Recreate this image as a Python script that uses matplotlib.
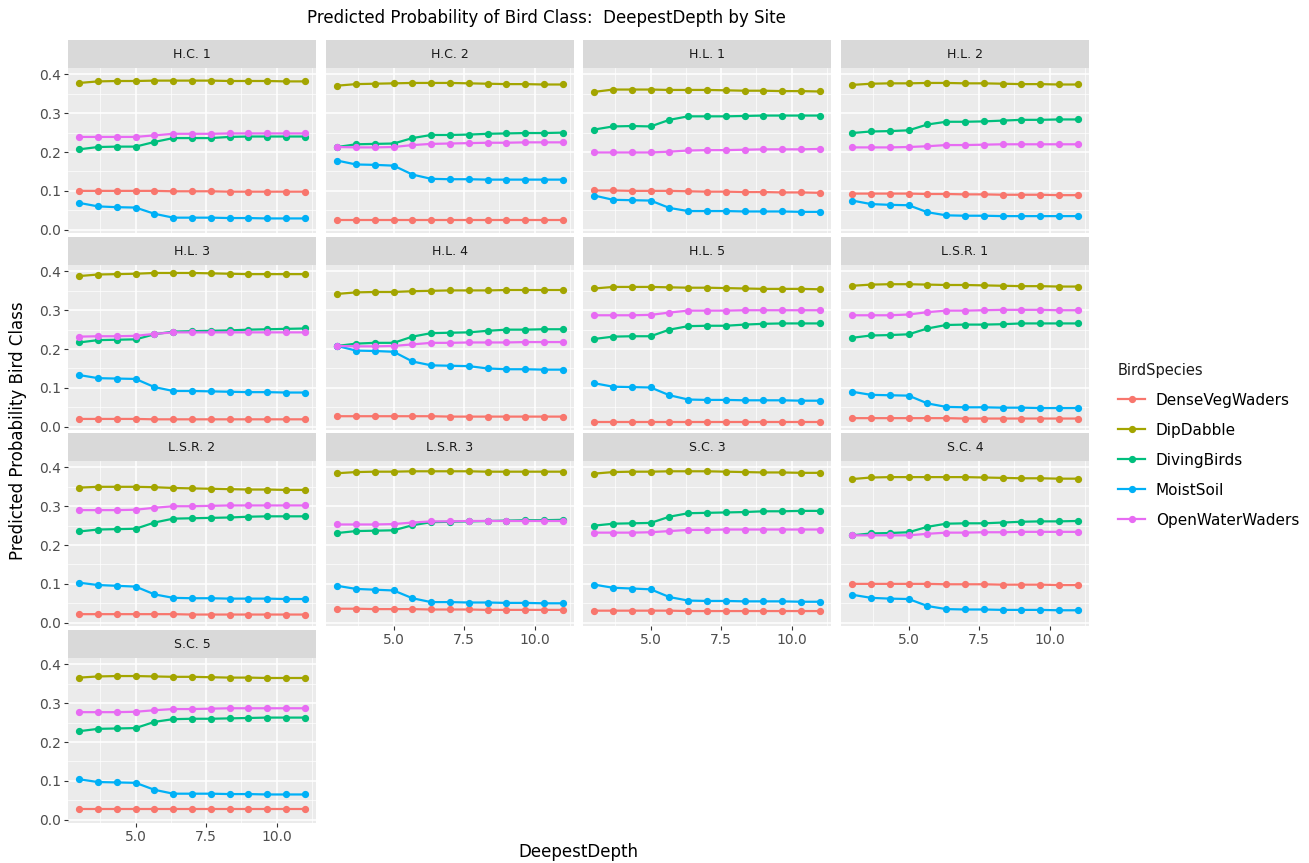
import matplotlib
matplotlib.use("Agg")
import matplotlib.pyplot as plt
from matplotlib.lines import Line2D

plt.rcParams['font.family'] = ['DejaVu Sans']

# depth values (13 points, 3 to 11)
depth = [3.0, 3.667, 4.333, 5.0, 5.667, 6.333, 7.0, 7.667, 8.333, 9.0, 9.667, 10.333, 11.0]

species = ["DenseVegWaders", "DipDabble", "DivingBirds", "MoistSoil", "OpenWaterWaders"]
colors = ["#F8766D", "#A3A500", "#00BF7D", "#00B0F6", "#E76BF3"]

sites = ["H.C. 1", "H.C. 2", "H.L. 1", "H.L. 2", "H.L. 3", "H.L. 4", "H.L. 5",
         "L.S.R. 1", "L.S.R. 2", "L.S.R. 3", "S.C. 3", "S.C. 4", "S.C. 5"]

# per site, per species: DenseVeg, DipDabble, Diving, MoistSoil, OpenWater
hc1_dense = [0.100, 0.100, 0.100, 0.100, 0.100, 0.099, 0.099, 0.099, 0.098, 0.098, 0.098, 0.098, 0.098]
hc1_dip = [0.378, 0.382, 0.383, 0.383, 0.384, 0.384, 0.384, 0.384, 0.383, 0.383, 0.383, 0.382, 0.382]
hc1_div = [0.207, 0.213, 0.214, 0.214, 0.226, 0.236, 0.236, 0.236, 0.239, 0.240, 0.240, 0.240, 0.240]
hc1_moist = [0.069, 0.060, 0.058, 0.057, 0.041, 0.031, 0.031, 0.031, 0.030, 0.030, 0.029, 0.029, 0.029]
hc1_open = [0.239, 0.239, 0.239, 0.239, 0.243, 0.247, 0.247, 0.247, 0.248, 0.248, 0.248, 0.248, 0.248]

hc2_dense = [0.025, 0.025, 0.025, 0.025, 0.025, 0.025, 0.025, 0.025, 0.025, 0.025, 0.025, 0.025, 0.025]
hc2_dip = [0.371, 0.375, 0.376, 0.377, 0.378, 0.378, 0.378, 0.377, 0.376, 0.375, 0.375, 0.374, 0.374]
hc2_div = [0.213, 0.220, 0.221, 0.222, 0.236, 0.244, 0.244, 0.245, 0.247, 0.248, 0.249, 0.249, 0.250]
hc2_moist = [0.178, 0.168, 0.167, 0.165, 0.142, 0.131, 0.130, 0.130, 0.129, 0.129, 0.129, 0.129, 0.129]
hc2_open = [0.213, 0.212, 0.212, 0.213, 0.218, 0.221, 0.222, 0.223, 0.224, 0.224, 0.225, 0.225, 0.225]

hl1_dense = [0.101, 0.101, 0.100, 0.100, 0.100, 0.099, 0.098, 0.098, 0.097, 0.097, 0.096, 0.096, 0.095]
hl1_dip = [0.355, 0.361, 0.361, 0.361, 0.360, 0.360, 0.360, 0.359, 0.358, 0.358, 0.357, 0.357, 0.356]
hl1_div = [0.258, 0.266, 0.267, 0.266, 0.283, 0.292, 0.292, 0.292, 0.293, 0.294, 0.294, 0.294, 0.294]
hl1_moist = [0.088, 0.077, 0.076, 0.075, 0.056, 0.048, 0.048, 0.048, 0.047, 0.047, 0.047, 0.046, 0.046]
hl1_open = [0.199, 0.199, 0.199, 0.199, 0.201, 0.204, 0.205, 0.205, 0.206, 0.207, 0.207, 0.207, 0.208]

hl2_dense = [0.093, 0.093, 0.093, 0.093, 0.092, 0.092, 0.091, 0.091, 0.090, 0.090, 0.090, 0.089, 0.089]
hl2_dip = [0.373, 0.376, 0.377, 0.377, 0.378, 0.378, 0.377, 0.377, 0.376, 0.375, 0.375, 0.374, 0.374]
hl2_div = [0.249, 0.253, 0.254, 0.256, 0.271, 0.278, 0.278, 0.279, 0.281, 0.283, 0.283, 0.284, 0.284]
hl2_moist = [0.075, 0.066, 0.064, 0.063, 0.045, 0.037, 0.036, 0.036, 0.035, 0.035, 0.035, 0.035, 0.035]
hl2_open = [0.212, 0.212, 0.212, 0.213, 0.215, 0.218, 0.218, 0.219, 0.220, 0.220, 0.220, 0.220, 0.220]

hl3_dense = [0.020, 0.020, 0.020, 0.020, 0.019, 0.019, 0.019, 0.019, 0.019, 0.019, 0.019, 0.019, 0.019]
hl3_dip = [0.388, 0.392, 0.393, 0.394, 0.396, 0.396, 0.396, 0.395, 0.394, 0.393, 0.393, 0.393, 0.393]
hl3_div = [0.217, 0.223, 0.224, 0.225, 0.238, 0.245, 0.246, 0.247, 0.248, 0.250, 0.251, 0.252, 0.253]
hl3_moist = [0.133, 0.125, 0.124, 0.123, 0.102, 0.092, 0.092, 0.091, 0.090, 0.089, 0.089, 0.088, 0.088]
hl3_open = [0.232, 0.233, 0.233, 0.234, 0.239, 0.243, 0.243, 0.243, 0.243, 0.243, 0.243, 0.243, 0.243]

hl4_dense = [0.027, 0.027, 0.027, 0.027, 0.027, 0.027, 0.026, 0.026, 0.026, 0.026, 0.026, 0.026, 0.026]
hl4_dip = [0.342, 0.346, 0.347, 0.347, 0.349, 0.350, 0.351, 0.351, 0.351, 0.352, 0.352, 0.352, 0.352]
hl4_div = [0.208, 0.214, 0.216, 0.216, 0.232, 0.241, 0.242, 0.243, 0.247, 0.250, 0.250, 0.251, 0.251]
hl4_moist = [0.208, 0.196, 0.195, 0.193, 0.168, 0.158, 0.157, 0.156, 0.150, 0.148, 0.148, 0.147, 0.147]
hl4_open = [0.208, 0.207, 0.207, 0.208, 0.212, 0.216, 0.216, 0.217, 0.217, 0.217, 0.218, 0.218, 0.218]

hl5_dense = [0.011, 0.011, 0.011, 0.011, 0.011, 0.011, 0.011, 0.011, 0.011, 0.011, 0.011, 0.011, 0.011]
hl5_dip = [0.356, 0.360, 0.360, 0.360, 0.359, 0.358, 0.358, 0.357, 0.356, 0.355, 0.355, 0.355, 0.354]
hl5_div = [0.226, 0.232, 0.233, 0.233, 0.250, 0.259, 0.260, 0.260, 0.263, 0.265, 0.266, 0.266, 0.266]
hl5_moist = [0.112, 0.103, 0.102, 0.101, 0.081, 0.070, 0.069, 0.069, 0.068, 0.068, 0.068, 0.067, 0.067]
hl5_open = [0.287, 0.287, 0.287, 0.288, 0.294, 0.299, 0.299, 0.299, 0.300, 0.300, 0.300, 0.300, 0.300]

lsr1_dense = [0.022, 0.022, 0.022, 0.022, 0.022, 0.022, 0.021, 0.021, 0.021, 0.021, 0.021, 0.021, 0.021]
lsr1_dip = [0.363, 0.366, 0.367, 0.367, 0.366, 0.365, 0.365, 0.364, 0.363, 0.362, 0.362, 0.361, 0.361]
lsr1_div = [0.229, 0.235, 0.236, 0.238, 0.253, 0.262, 0.263, 0.263, 0.264, 0.266, 0.266, 0.266, 0.266]
lsr1_moist = [0.090, 0.082, 0.081, 0.080, 0.060, 0.051, 0.050, 0.050, 0.049, 0.049, 0.048, 0.048, 0.048]
lsr1_open = [0.287, 0.287, 0.287, 0.289, 0.295, 0.299, 0.299, 0.300, 0.301, 0.301, 0.301, 0.300, 0.300]

lsr2_dense = [0.022, 0.022, 0.022, 0.022, 0.022, 0.022, 0.021, 0.021, 0.021, 0.021, 0.021, 0.021, 0.021]
lsr2_dip = [0.348, 0.350, 0.350, 0.350, 0.349, 0.347, 0.346, 0.345, 0.344, 0.343, 0.343, 0.342, 0.342]
lsr2_div = [0.235, 0.240, 0.241, 0.242, 0.258, 0.268, 0.269, 0.270, 0.271, 0.273, 0.274, 0.274, 0.274]
lsr2_moist = [0.103, 0.097, 0.095, 0.093, 0.073, 0.064, 0.063, 0.063, 0.062, 0.062, 0.062, 0.061, 0.061]
lsr2_open = [0.290, 0.290, 0.290, 0.291, 0.296, 0.300, 0.300, 0.301, 0.302, 0.302, 0.302, 0.302, 0.302]

lsr3_dense = [0.036, 0.036, 0.035, 0.035, 0.035, 0.034, 0.034, 0.034, 0.033, 0.033, 0.033, 0.033, 0.033]
lsr3_dip = [0.385, 0.388, 0.389, 0.389, 0.390, 0.390, 0.390, 0.390, 0.389, 0.389, 0.389, 0.389, 0.389]
lsr3_div = [0.231, 0.236, 0.237, 0.238, 0.251, 0.259, 0.260, 0.261, 0.262, 0.263, 0.264, 0.264, 0.265]
lsr3_moist = [0.095, 0.087, 0.085, 0.083, 0.063, 0.053, 0.053, 0.052, 0.052, 0.051, 0.051, 0.050, 0.050]
lsr3_open = [0.253, 0.253, 0.253, 0.254, 0.258, 0.261, 0.261, 0.262, 0.262, 0.262, 0.262, 0.262, 0.262]

sc3_dense = [0.031, 0.031, 0.031, 0.031, 0.031, 0.030, 0.030, 0.030, 0.030, 0.030, 0.030, 0.030, 0.030]
sc3_dip = [0.384, 0.388, 0.389, 0.389, 0.390, 0.390, 0.390, 0.389, 0.388, 0.387, 0.387, 0.386, 0.386]
sc3_div = [0.250, 0.255, 0.256, 0.257, 0.273, 0.282, 0.283, 0.284, 0.285, 0.287, 0.287, 0.288, 0.288]
sc3_moist = [0.098, 0.090, 0.088, 0.086, 0.066, 0.057, 0.056, 0.056, 0.055, 0.055, 0.055, 0.054, 0.054]
sc3_open = [0.232, 0.232, 0.232, 0.233, 0.236, 0.239, 0.239, 0.240, 0.240, 0.240, 0.240, 0.240, 0.240]

sc4_dense = [0.100, 0.100, 0.100, 0.100, 0.100, 0.099, 0.099, 0.099, 0.098, 0.098, 0.098, 0.097, 0.097]
sc4_dip = [0.370, 0.374, 0.375, 0.375, 0.375, 0.375, 0.375, 0.374, 0.373, 0.372, 0.372, 0.371, 0.371]
sc4_div = [0.225, 0.230, 0.231, 0.233, 0.247, 0.255, 0.256, 0.256, 0.258, 0.260, 0.261, 0.261, 0.262]
sc4_moist = [0.072, 0.064, 0.062, 0.061, 0.043, 0.035, 0.034, 0.034, 0.033, 0.033, 0.033, 0.032, 0.032]
sc4_open = [0.225, 0.225, 0.225, 0.225, 0.229, 0.232, 0.232, 0.233, 0.233, 0.234, 0.234, 0.234, 0.234]

sc5_dense = [0.028, 0.028, 0.028, 0.028, 0.028, 0.028, 0.028, 0.028, 0.028, 0.028, 0.028, 0.028, 0.028]
sc5_dip = [0.366, 0.369, 0.370, 0.370, 0.369, 0.368, 0.368, 0.367, 0.366, 0.366, 0.365, 0.365, 0.365]
sc5_div = [0.228, 0.234, 0.235, 0.236, 0.252, 0.259, 0.260, 0.260, 0.261, 0.262, 0.263, 0.263, 0.263]
sc5_moist = [0.104, 0.097, 0.096, 0.095, 0.077, 0.067, 0.067, 0.067, 0.066, 0.066, 0.065, 0.065, 0.065]
sc5_open = [0.277, 0.277, 0.277, 0.278, 0.282, 0.285, 0.285, 0.286, 0.287, 0.287, 0.287, 0.287, 0.287]

site_data = {
    "H.C. 1": [hc1_dense, hc1_dip, hc1_div, hc1_moist, hc1_open],
    "H.C. 2": [hc2_dense, hc2_dip, hc2_div, hc2_moist, hc2_open],
    "H.L. 1": [hl1_dense, hl1_dip, hl1_div, hl1_moist, hl1_open],
    "H.L. 2": [hl2_dense, hl2_dip, hl2_div, hl2_moist, hl2_open],
    "H.L. 3": [hl3_dense, hl3_dip, hl3_div, hl3_moist, hl3_open],
    "H.L. 4": [hl4_dense, hl4_dip, hl4_div, hl4_moist, hl4_open],
    "H.L. 5": [hl5_dense, hl5_dip, hl5_div, hl5_moist, hl5_open],
    "L.S.R. 1": [lsr1_dense, lsr1_dip, lsr1_div, lsr1_moist, lsr1_open],
    "L.S.R. 2": [lsr2_dense, lsr2_dip, lsr2_div, lsr2_moist, lsr2_open],
    "L.S.R. 3": [lsr3_dense, lsr3_dip, lsr3_div, lsr3_moist, lsr3_open],
    "S.C. 3": [sc3_dense, sc3_dip, sc3_div, sc3_moist, sc3_open],
    "S.C. 4": [sc4_dense, sc4_dip, sc4_div, sc4_moist, sc4_open],
    "S.C. 5": [sc5_dense, sc5_dip, sc5_div, sc5_moist, sc5_open],
}

W, H = 1309, 863
fig = plt.figure(figsize=(W / 100, H / 100), dpi=100)
fig.patch.set_facecolor("white")

col_left = [68, 326, 583, 841]
panel_w = 248
strip_top = [40, 237, 433, 630]
strip_h = 28
panel_h = 165


def fx(px):
    return px / W


def fy(py):
    return 1 - py / H


ncols = 4
nsites = len(sites)
for i, site in enumerate(sites):
    r, c = divmod(i, ncols)
    x0 = col_left[c]
    top = strip_top[r]
    # strip
    sax = fig.add_axes([fx(x0), fy(top + strip_h), fx(panel_w), strip_h / H])
    sax.set_facecolor("#D9D9D9")
    sax.set_xticks([])
    sax.set_yticks([])
    for sp in sax.spines.values():
        sp.set_visible(False)
    sax.text(0.5, 0.5, site, ha="center", va="center", fontsize=9, color="#1A1A1A",
             transform=sax.transAxes)

    ax = fig.add_axes([fx(x0), fy(top + strip_h + panel_h), fx(panel_w), panel_h / H])
    ax.set_facecolor("#EBEBEB")
    for sp in ax.spines.values():
        sp.set_visible(False)
    ax.set_xlim(2.6, 11.4)
    ax.set_ylim(-0.0085, 0.4165)
    ax.set_xticks([5.0, 7.5, 10.0])
    ax.set_xticks([3.75, 6.25, 8.75, 11.25], minor=True)
    ax.set_yticks([0.0, 0.1, 0.2, 0.3, 0.4])
    ax.set_yticks([0.05, 0.15, 0.25, 0.35], minor=True)
    ax.grid(which="major", color="white", linewidth=1.1)
    ax.grid(which="minor", color="white", linewidth=0.5)
    ax.set_axisbelow(True)

    for sp_name, col, vals in zip(species, colors, site_data[site]):
        ax.plot(depth, vals, color=col, linewidth=1.6, marker="o", markersize=4.2,
                label=sp_name, zorder=3)

    show_x = (i + ncols >= nsites)
    show_y = (c == 0)
    ax.tick_params(which="major", length=3, width=0.8, color="#333333",
                   labelsize=10, labelcolor="#4D4D4D", pad=2)
    ax.tick_params(which="minor", length=0)
    if show_x:
        ax.set_xticklabels(["5.0", "7.5", "10.0"])
    else:
        ax.tick_params(axis="x", which="major", length=0, labelbottom=False)
    if show_y:
        ax.set_yticklabels(["0.0", "0.1", "0.2", "0.3", "0.4"])
    else:
        ax.tick_params(axis="y", which="major", length=0, labelleft=False)

fig.text(fx(546), fy(18), "Predicted Probability of Bird Class:  DeepestDepth by Site",
         ha="center", va="center", fontsize=12, color="black")
fig.text(fx(578), fy(852), "DeepestDepth", ha="center", va="center", fontsize=12)
fig.text(fx(18), fy(431), "Predicted Probability Bird Class", ha="center", va="center",
         rotation=90, fontsize=12)

handles = [Line2D([], [], color=col, linewidth=1.6, marker="o", markersize=4.2)
           for col in colors]
leg = fig.legend(handles, species, title="BirdSpecies", loc="upper left",
                 bbox_to_anchor=(fx(1104), fy(349)), frameon=False, fontsize=11,
                 title_fontsize=10.5, handlelength=1.8, labelspacing=0.98,
                 handletextpad=0.7, alignment="left")
leg.get_title().set_color("#1A1A1A")

fig.savefig("out.png", dpi=100)
